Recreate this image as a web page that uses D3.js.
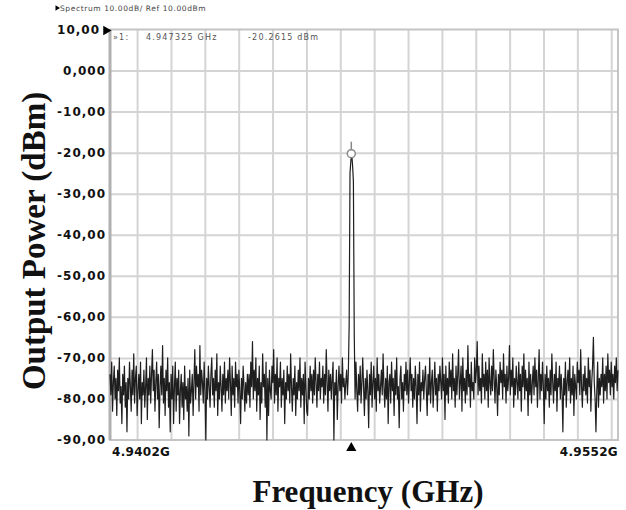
<!DOCTYPE html>
<html>
<head>
<meta charset="utf-8">
<script src="https://cdn.jsdelivr.net/npm/d3@7"></script>
<style>
  html, body { margin: 0; padding: 0; background: #fff; }
  svg { display: block; }
</style>
</head>
<body>
<svg id="chart" width="626" height="510"></svg>
<script>
// Sweep settings (GHz) and axis labelling
const startFreq = 4.9402;
const stopFreq = 4.9552;
const gridFreqs = [4.941, 4.942, 4.943, 4.944, 4.945, 4.946, 4.947, 4.948,
                   4.949, 4.950, 4.951, 4.952, 4.953, 4.954, 4.955];
const yTicks = [10, 0, -10, -20, -30, -40, -50, -60, -70, -80, -90];
const yTickLabels = ["10,00", "0,000", "-10,00", "-20,00", "-30,00", "-40,00",
                     "-50,00", "-60,00", "-70,00", "-80,00", "-90,00"];
const xEndLabels = ["4.9402G", "4.9552G"];

// Marker 1 readout
const markerFreq = 4.947325;
const markerLevel = -20.2615;
const markerText = ["\u00bb1:", "4.947325 GHz", "-20.2615 dBm"];
const headerText = "Spectrum 10.00dB/ Ref 10.00dBm";

// Trace samples (dBm), evenly spaced across the sweep
const trace = [
  -74,-79,-71,-83,-76,-72,-80,-75,-84,-73,
  -78,-70,-81,-77,-86,-74,-79,-72,-82,-76,
  -88,-75,-80,-71,-77,-83,-73,-79,-69,-81,
  -75,-72,-84,-78,-74,-80,-71,-86,-76,-79,
  -73,-82,-77,-70,-85,-75,-79,-72,-81,-74,
  -68,-78,-73,-83,-76,-71,-80,-74,-87,-77,
  -72,-79,-67,-81,-75,-84,-73,-78,-70,-82,
  -76,-88,-74,-80,-72,-86,-77,-71,-83,-75,
  -79,-73,-86,-78,-74,-82,-76,-85,-72,-80,
  -77,-83,-75,-89,-73,-81,-78,-74,-84,-76,
  -68,-80,-72,-77,-74,-83,-67,-79,-73,-76,
  -81,-71,-78,-90,-75,-80,-72,-77,-82,-74,
  -70,-79,-75,-82,-73,-78,-69,-84,-76,-80,
  -72,-77,-83,-74,-79,-71,-81,-75,-78,-73,
  -80,-70,-76,-84,-72,-79,-75,-82,-71,-77,
  -74,-81,-73,-78,-86,-75,-80,-72,-77,-83,
  -76,-81,-74,-79,-74,-82,-71,-77,-66,-80,
  -73,-78,-70,-83,-75,-79,-72,-85,-76,-81,
  -69,-77,-74,-82,-71,-90,-75,-84,-73,-78,
  -80,-72,-76,-68,-81,-74,-79,-70,-83,-75,
  -77,-71,-82,-75,-79,-73,-86,-76,-80,-72,
  -78,-74,-81,-69,-77,-83,-75,-79,-72,-84,
  -76,-80,-73,-78,-70,-82,-75,-79,-74,-86,
  -71,-77,-83,-84,-75,-80,-72,-78,-74,-81,
  -73,-79,-70,-76,-82,-74,-78,-71,-80,-75,
  -77,-72,-81,-74,-79,-68,-76,-83,-73,-78,
  -74,-80,-75,-71,-90,-76,-79,-73,-85,-77,
  -72,-78,-74,-81,-70,-77,-75,-80,-76,-73,
  -79,-74,-62,-25,-22,-20.2615,-23,-27,-64,-80,
  -71,-78,-83,-74,-79,-72,-81,-76,-70,-77,
  -84,-75,-80,-73,-78,-87,-74,-79,-71,-82,
  -76,-72,-80,-75,-83,-70,-78,-74,-81,-77,
  -73,-79,-69,-77,-82,-75,-80,-72,-86,-76,
  -74,-81,-71,-78,-75,-84,-73,-79,-70,-80,
  -77,-87,-75,-72,-80,-76,-83,-74,-78,-71,
  -79,-73,-81,-76,-70,-78,-74,-82,-75,-80,
  -72,-77,-86,-74,-79,-71,-83,-76,-78,-73,
  -80,-75,-72,-78,-84,-74,-79,-70,-81,-76,
  -73,-82,-77,-71,-79,-75,-83,-74,-78,-72,
  -76,-80,-70,-78,-74,-85,-72,-79,-75,-81,
  -71,-77,-73,-80,-69,-78,-75,-82,-72,-79,
  -74,-68,-80,-76,-72,-83,-70,-78,-75,-81,
  -73,-79,-67,-77,-74,-82,-71,-78,-76,-80,
  -70,-76,-73,-66,-79,-72,-78,-75,-81,-69,
  -77,-74,-80,-71,-78,-73,-82,-70,-76,-79,
  -72,-78,-68,-75,-81,-73,-77,-84,-74,-79,
  -71,-76,-73,-80,-69,-77,-74,-81,-72,-78,
  -75,-67,-79,-73,-77,-70,-82,-75,-79,-72,
  -76,-80,-71,-78,-74,-83,-72,-77,-69,-80,
  -73,-78,-75,-84,-71,-79,-74,-81,-76,-72,
  -79,-70,-77,-73,-82,-75,-68,-80,-74,-78,
  -71,-77,-86,-74,-80,-72,-78,-75,-82,-73,
  -79,-69,-76,-81,-74,-78,-71,-83,-75,-77,
  -72,-80,-74,-78,-88,-75,-79,-71,-82,-76,
  -73,-78,-70,-81,-75,-79,-72,-84,-74,-77,
  -80,-71,-76,-73,-79,-68,-77,-82,-74,-78,
  -72,-79,-75,-81,-70,-77,-73,-83,-76,-72,
  -65,-76,-80,-88,-78,-71,-82,-75,-79,-74,
  -77,-70,-81,-74,-78,-72,-80,-69,-76,-73,
  -79,-71,-77,-74,-80,-72,-76,-70,-78,-73
];

const svg = d3.select("#chart");
const plot = { left: 110, right: 618, top: 29.5, bottom: 440 };

const x = d3.scaleLinear().domain([startFreq, stopFreq]).range([plot.left, plot.right]);
const y = d3.scaleLinear().domain([-90, 10]).range([plot.bottom, plot.top]);
const step = (stopFreq - startFreq) / (trace.length - 1);

const labelFont = "'DejaVu Sans', Verdana, sans-serif";
const titleFont = "'Liberation Serif', 'Times New Roman', serif";

// Grid lines
svg.append("g")
  .attr("transform", `translate(0,${plot.bottom})`)
  .call(d3.axisBottom(x).tickValues(gridFreqs).tickSize(-(plot.bottom - plot.top)).tickFormat(""))
  .call(g => g.select(".domain").remove())
  .call(g => g.selectAll("line").attr("stroke", "#d4d4d4").attr("stroke-width", 2));

svg.append("g")
  .attr("transform", `translate(${plot.left},0)`)
  .call(d3.axisLeft(y).tickValues(yTicks.slice(1, -1)).tickSize(-(plot.right - plot.left)).tickFormat(""))
  .call(g => g.select(".domain").remove())
  .call(g => g.selectAll("line").attr("stroke", "#d4d4d4").attr("stroke-width", 2));

// Frame
svg.append("rect")
  .attr("x", plot.left).attr("y", plot.top)
  .attr("width", plot.right - plot.left).attr("height", plot.bottom - plot.top)
  .attr("fill", "none").attr("stroke", "#c4c4c4").attr("stroke-width", 2);
svg.append("line")
  .attr("x1", plot.left).attr("x2", plot.left)
  .attr("y1", plot.top).attr("y2", plot.bottom)
  .attr("stroke", "#b0b0b0").attr("stroke-width", 3);

// Y tick labels
const yAxis = svg.append("g")
  .attr("transform", `translate(${plot.left - 4},0)`)
  .call(d3.axisLeft(y).tickValues(yTicks).tickSize(0).tickPadding(0)
    .tickFormat((d, i) => yTickLabels[i]));
yAxis.select(".domain").remove();
yAxis.selectAll("text")
  .attr("font-family", labelFont).attr("font-weight", "bold")
  .attr("font-size", 12).attr("letter-spacing", 1).attr("fill", "#111")
  .attr("dx", d => d === 10 ? -6 : 0);

// Reference level arrow
svg.append("path")
  .attr("d", d3.symbol(d3.symbolTriangle, 40)())
  .attr("transform", `translate(${plot.left - 4},${y(10) + 1}) rotate(90)`)
  .attr("fill", "#000");

// Trace
const line = d3.line()
  .x((d, i) => x(startFreq + i * step))
  .y(d => y(d));
svg.append("path")
  .datum(trace)
  .attr("d", line)
  .attr("fill", "none")
  .attr("stroke", "#1e1e1e")
  .attr("stroke-width", 1.2)
  .attr("stroke-linejoin", "round");

// Marker 1
svg.append("line")
  .attr("x1", x(markerFreq)).attr("x2", x(markerFreq))
  .attr("y1", y(markerLevel) - 12).attr("y2", y(markerLevel) - 4)
  .attr("stroke", "#888").attr("stroke-width", 1.5);
svg.append("circle")
  .attr("cx", x(markerFreq)).attr("cy", y(markerLevel)).attr("r", 4)
  .attr("fill", "#fff").attr("stroke", "#888").attr("stroke-width", 1.5);

// Marker readout inside the frame
const readout = svg.append("g")
  .attr("font-family", labelFont).attr("font-size", 8).attr("letter-spacing", 1.2)
  .attr("fill", "#555");
readout.append("text").attr("x", plot.left + 3).attr("y", plot.top + 10).text(markerText[0]);
readout.append("text").attr("x", 146).attr("y", plot.top + 10).text(markerText[1]);
readout.append("text").attr("x", 248).attr("y", plot.top + 10).text(markerText[2]);

// Header line
svg.append("path")
  .attr("d", d3.symbol(d3.symbolTriangle, 12)())
  .attr("transform", `translate(57,8) rotate(90)`)
  .attr("fill", "#000");
svg.append("text")
  .attr("x", 60).attr("y", 10.5)
  .attr("font-family", labelFont).attr("font-size", 7.5).attr("letter-spacing", 0.6)
  .attr("fill", "#444")
  .text(headerText);

// Frequency end labels and centre marker
svg.append("text")
  .attr("x", plot.left + 2).attr("y", 456)
  .attr("font-family", labelFont).attr("font-weight", "bold")
  .attr("font-size", 12).attr("letter-spacing", 0.3).attr("fill", "#111")
  .text(xEndLabels[0]);
svg.append("text")
  .attr("x", plot.right).attr("y", 456).attr("text-anchor", "end")
  .attr("font-family", labelFont).attr("font-weight", "bold")
  .attr("font-size", 12).attr("letter-spacing", 0.3).attr("fill", "#111")
  .text(xEndLabels[1]);
svg.append("path")
  .attr("d", d3.symbol(d3.symbolTriangle, 45)())
  .attr("transform", `translate(${x(markerFreq)},${plot.bottom + 8})`)
  .attr("fill", "#000");

// Axis titles
svg.append("text")
  .attr("x", 368).attr("y", 502).attr("text-anchor", "middle")
  .attr("font-family", titleFont).attr("font-weight", "bold").attr("font-size", 31)
  .attr("fill", "#111")
  .text("Frequency (GHz)");
svg.append("text")
  .attr("transform", "translate(45,241) rotate(-90)")
  .attr("text-anchor", "middle")
  .attr("font-family", titleFont).attr("font-weight", "bold").attr("font-size", 33)
  .attr("fill", "#111")
  .text("Output Power (dBm)");
</script>
</body>
</html>
